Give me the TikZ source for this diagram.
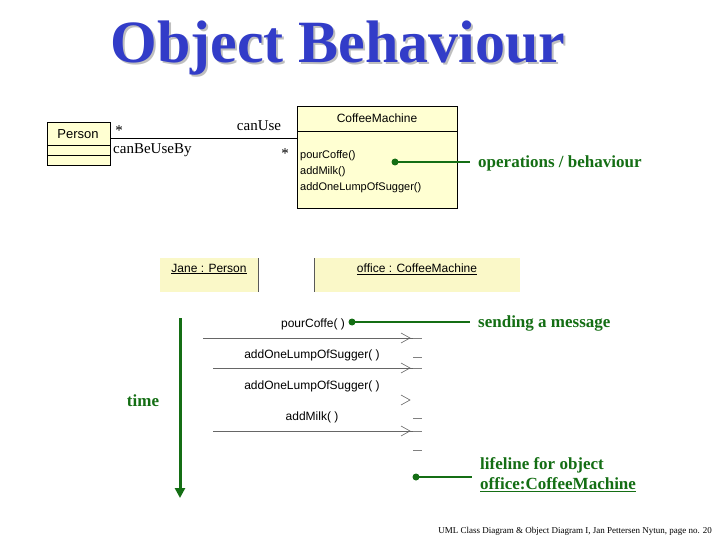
\documentclass[tikz,border=0pt]{standalone}
\usepackage{fontspec}
\setmainfont{Liberation Serif}
\newfontfamily\uml{Liberation Sans}
\usetikzlibrary{arrows.meta}
\definecolor{gr}{RGB}{20,110,20}
\definecolor{ttl}{RGB}{50,60,200}
\definecolor{yel}{RGB}{255,255,210}
\definecolor{yel2}{RGB}{250,248,200}
\begin{document}
\begin{tikzpicture}[x=1pt,y=-1pt,
 lbl/.style={font=\fontsize{15}{17}\selectfont, inner sep=0pt},
 op/.style={font=\uml\fontsize{11}{13}\selectfont, inner sep=0pt},
 gl/.style={gr, line width=1.5pt},
 gt/.style={gr, font=\bfseries\fontsize{17}{19}\selectfont, inner sep=0pt, anchor=west},
 dotc/.style={circle, fill=gr, inner sep=0pt, minimum size=7pt},
 msg/.style={draw=gray!80!black, line width=0.6pt},
 lf/.style={draw=gray, line width=0.6pt}]
\useasboundingbox (0,0) rectangle (720,540);
% title
\node[gray!50, font=\bfseries\fontsize{60}{66}\selectfont] at (340,50) {Object Behaviour};
\node[ttl, font=\bfseries\fontsize{60}{66}\selectfont] (title) at (338,48) {Object Behaviour};
% class diagram
\filldraw[fill=yel, draw=black, line width=0.6pt] (47,122) rectangle (110,165);
\node[op, font=\uml\fontsize{13}{15}\selectfont] (person) at (78,134) {Person};
\draw[line width=0.6pt] (47,145) -- (110,145) (47,155) -- (110,155);
\filldraw[fill=yel, draw=black, line width=0.6pt] (297,106) rectangle (457,208);
\coordinate (cmw) at (297,138);
\coordinate (pe) at (110,138);
\draw[line width=0.6pt] (297,131) -- (457,131);
\draw[line width=0.6pt] (pe) -- (cmw);
\node[op, font=\uml\fontsize{12}{14}\selectfont] (cm) at (377,118) {CoffeeMachine};
\node[op, anchor=west] (o1) at (300,156) {pourCoffe()};
\node[op, anchor=west] (o2) at (300,172) {addMilk()};
\node[op, anchor=west] (o3) at (300,188) {addOneLumpOfSugger()};
\node[lbl] (s1) at (119,131) {*};
\node[lbl] (cu) at (259,126) {canUse};
\node[lbl, anchor=west] (cb) at (113,150) {canBeUseBy};
\node[lbl] (s2) at (285,154) {*};
% operations connector
\node[dotc] (d1) at (395,162) {};
\node[gt] (t1) at (478,163) {operations / behaviour};
\coordinate (t1w) at (470,162);
\draw[gl] (d1.center) -- (t1w);
% object headers
\fill[yel2] (160,258) rectangle (258,292);
\fill[yel2] (314,258) rectangle (520,292);
\draw[gray!70!black, line width=0.6pt] (258,258) -- (258,292) (314,258) -- (314,292);
\node[op, font=\uml\fontsize{12}{14}\selectfont] (jane) at (209,269) {\underline{Jane : Person}};
\node[op, font=\uml\fontsize{12}{14}\selectfont] (office) at (417,269) {\underline{office : CoffeeMachine}};
% time
\coordinate (ttop) at (180,318);
\coordinate (tbot) at (180,498);
\draw[gr, line width=3pt, -{Triangle[length=10pt,width=10pt]}] (ttop) -- (tbot);
\node[gr, font=\bfseries\fontsize{17}{19}\selectfont] (time) at (143,401) {time};
% messages
\coordinate (m1a) at (203,338); \coordinate (m1b) at (413,338);
\coordinate (m2a) at (213,368); \coordinate (m2b) at (413,368);
\coordinate (m4a) at (213,431); \coordinate (m4b) at (413,431);
\draw[msg] (m1a) -- (m1b); \draw[msg] (m2a) -- (m2b); \draw[msg] (m4a) -- (m4b);
\foreach \y in {338,368,400,431} \draw[msg] (401,\y-5) -- (410,\y) -- (401,\y+5);
\foreach \y in {338,357,368,418,431,450} \draw[lf] (413,\y) -- (422,\y);
\node[op, font=\uml\fontsize{12}{14}\selectfont] (l1) at (313,324) {pourCoffe( )};
\node[op, font=\uml\fontsize{12}{14}\selectfont] (l2) at (312,355) {addOneLumpOfSugger( )};
\node[op, font=\uml\fontsize{12}{14}\selectfont] (l3) at (312,386) {addOneLumpOfSugger( )};
\node[op, font=\uml\fontsize{12}{14}\selectfont] (l4) at (312,417) {addMilk( )};
\node[dotc] (d2) at (352,322) {};
\node[gt] (t2) at (478,323) {sending a message};
\coordinate (t2w) at (470,322);
\draw[gl] (d2.center) -- (t2w);
\node[dotc] (d3) at (416,477) {};
\node[gt, align=left, anchor=north west] (t3) at (480,457) {lifeline for object\\[1pt]\underline{office:CoffeeMachine}};
\coordinate (t3w) at (472,477);
\draw[gl] (d3.center) -- (t3w);
% footer
\node[font=\fontsize{9}{10}\selectfont, anchor=east, inner sep=0pt] (foot) at (712,531) {UML Class Diagram \& Object Diagram I, Jan Pettersen Nytun, page no. 20};
\end{tikzpicture}
\end{document}
